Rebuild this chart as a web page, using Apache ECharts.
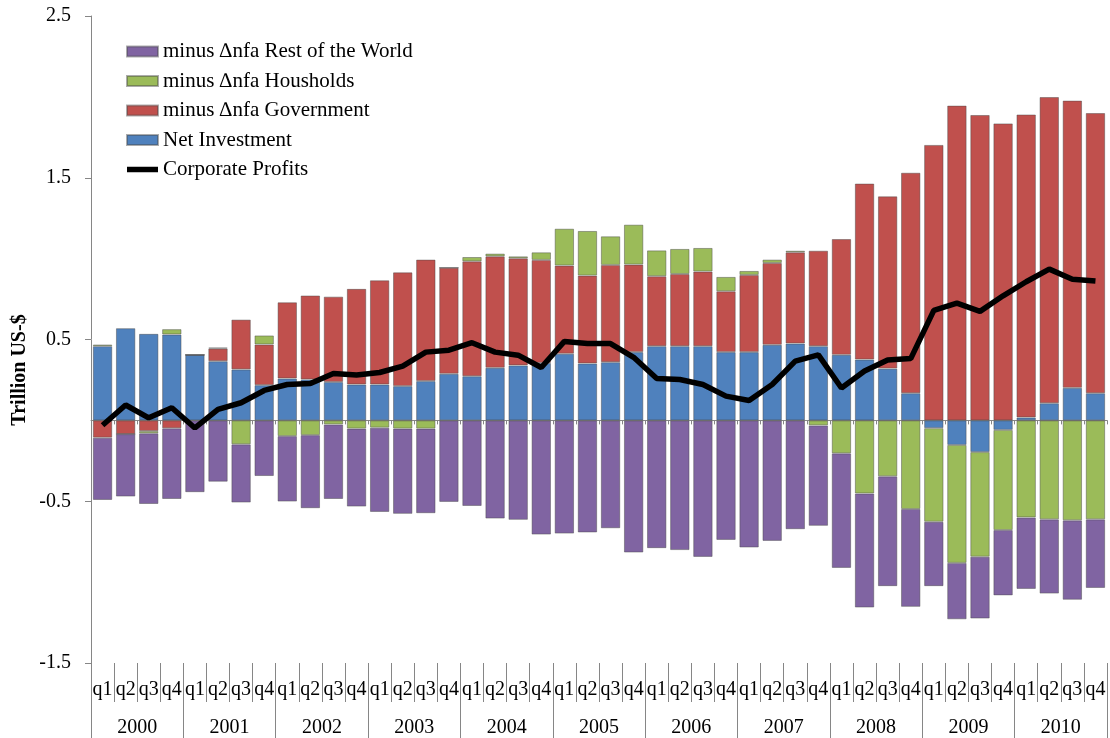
<!DOCTYPE html>
<html>
<head>
<meta charset="utf-8">
<title>Corporate profits decomposition</title>
<script src="https://cdn.jsdelivr.net/npm/echarts@6/dist/echarts.min.js"></script>
<style>
  html, body { margin: 0; padding: 0; background: #fff; }
  #chart { width: 1110px; height: 738px; }
</style>
</head>
<body>
<div id="chart"></div>
<script>
// data, 2000 q1 .. 2010 q4
const years = ['2000', '2001', '2002', '2003', '2004', '2005', '2006', '2007', '2008', '2009', '2010'];
const quarterNames = ['q1', 'q2', 'q3', 'q4'];

const netInvestment = [
  0.459, 0.570, 0.535, 0.531, 0.405, 0.366, 0.315, 0.218, 0.259, 0.253, 0.237, 0.222,
  0.222, 0.212, 0.243, 0.288, 0.273, 0.325, 0.340, 0.355, 0.412, 0.352, 0.360, 0.422,
  0.459, 0.459, 0.459, 0.422, 0.422, 0.467, 0.475, 0.459, 0.405, 0.376, 0.320, 0.168,
  -0.048, -0.152, -0.196, -0.059, 0.018, 0.106, 0.201, 0.168
];
const government = [
  -0.107, -0.085, -0.066, -0.049, 0, 0.078, 0.308, 0.251, 0.471, 0.519, 0.528, 0.591,
  0.644, 0.703, 0.751, 0.656, 0.710, 0.689, 0.662, 0.637, 0.545, 0.543, 0.601, 0.541,
  0.432, 0.446, 0.461, 0.376, 0.477, 0.506, 0.564, 0.590, 0.716, 1.088, 1.065, 1.363,
  1.703, 1.946, 1.888, 1.836, 1.873, 1.893, 1.776, 1.732
];
const households = [
  0.010, 0, -0.014, 0.033, 0, 0.006, -0.148, 0.056, -0.097, -0.091, -0.025, -0.051,
  -0.045, -0.051, -0.051, 0, 0.027, 0.017, 0.012, 0.047, 0.228, 0.276, 0.177, 0.247,
  0.160, 0.155, 0.146, 0.089, 0.025, 0.021, 0.010, -0.031, -0.204, -0.452, -0.346, -0.548,
  -0.579, -0.729, -0.647, -0.619, -0.600, -0.612, -0.618, -0.612
];
const restOfWorld = [
  -0.385, -0.386, -0.437, -0.437, -0.444, -0.379, -0.360, -0.344, -0.405, -0.452, -0.461, -0.482,
  -0.521, -0.527, -0.523, -0.504, -0.529, -0.607, -0.615, -0.706, -0.700, -0.693, -0.667, -0.817,
  -0.790, -0.802, -0.844, -0.739, -0.786, -0.745, -0.673, -0.621, -0.708, -0.705, -0.679, -0.605,
  -0.398, -0.349, -0.382, -0.404, -0.442, -0.459, -0.491, -0.424
];
const corporateProfits = [
  -0.030, 0.095, 0.016, 0.078, -0.047, 0.068, 0.109, 0.185, 0.222, 0.228, 0.290, 0.280,
  0.296, 0.335, 0.422, 0.434, 0.480, 0.422, 0.403, 0.327, 0.488, 0.475, 0.475, 0.390,
  0.259, 0.253, 0.222, 0.150, 0.123, 0.222, 0.366, 0.405, 0.200, 0.305, 0.373, 0.382,
  0.680, 0.725, 0.674, 0.770, 0.857, 0.935, 0.873, 0.862
];

const quarters = [];
years.forEach(() => quarterNames.forEach(q => quarters.push(q)));

const serif = '"Liberation Serif", "Times New Roman", serif';
const axisGray = '#868686';

function barSeries(name, data, color) {
  return {
    name: name,
    type: 'bar',
    stack: 'total',
    data: data,
    barCategoryGap: '16%',
    itemStyle: {
      color: color,
      borderColor: 'rgba(70,70,70,0.45)',
      borderWidth: 1
    }
  };
}

const chart = echarts.init(document.getElementById('chart'));
chart.setOption({
  backgroundColor: '#fff',
  animation: false,
  grid: { left: 91, right: 3, top: 16, bottom: 75 },
  legend: {
    orient: 'vertical',
    left: 126,
    top: 41,
    padding: 0,
    icon: 'rect',
    itemWidth: 31,
    itemHeight: 10,
    itemGap: 8.5,
    textStyle: { fontFamily: serif, fontSize: 21, color: '#000', lineHeight: 20 },
    data: [
      'minus ∆nfa Rest of the World',
      'minus ∆nfa Housholds',
      'minus ∆nfa Government',
      'Net Investment',
      { name: 'Corporate Profits', icon: 'path://M0,0L31,0L31,5.5L0,5.5Z' }
    ]
  },
  graphic: [{
    type: 'text',
    x: 20,
    y: 370,
    rotation: Math.PI / 2,
    style: {
      text: 'Trillion US-$',
      font: 'bold 20px ' + serif,
      fill: '#000',
      align: 'center',
      verticalAlign: 'middle'
    }
  }],
  xAxis: [
    {
      type: 'category',
      data: quarters,
      position: 'bottom',
      axisLine: { onZero: true, lineStyle: { color: axisGray, width: 1 } },
      axisTick: { show: true, length: 4, lineStyle: { color: axisGray } },
      axisLabel: { show: false }
    },
    {
      type: 'category',
      data: quarters,
      position: 'bottom',
      axisLine: { show: false, onZero: false },
      axisTick: { show: true, interval: 0, length: 39, lineStyle: { color: axisGray } },
      axisLabel: { interval: 0, margin: 17, fontFamily: serif, fontSize: 20, color: '#000' }
    },
    {
      type: 'category',
      data: years,
      position: 'bottom',
      axisLine: { show: false, onZero: false },
      axisTick: { show: true, interval: 0, length: 75, lineStyle: { color: axisGray } },
      axisLabel: { interval: 0, margin: 55, fontFamily: serif, fontSize: 20, color: '#000' }
    }
  ],
  yAxis: {
    type: 'value',
    min: -1.5,
    max: 2.5,
    interval: 1,
    axisLine: { show: true, onZero: false, lineStyle: { color: axisGray, width: 1 } },
    axisTick: { show: true, length: 6, lineStyle: { color: axisGray } },
    splitLine: { show: false },
    axisLabel: {
      margin: 20,
      fontFamily: serif,
      fontSize: 20,
      color: '#000',
      formatter: v => v.toFixed(1)
    }
  },
  series: [
    barSeries('Net Investment', netInvestment, '#4F81BD'),
    barSeries('minus ∆nfa Government', government, '#C0504D'),
    barSeries('minus ∆nfa Housholds', households, '#9BBB59'),
    barSeries('minus ∆nfa Rest of the World', restOfWorld, '#8064A2'),
    {
      name: 'Corporate Profits',
      type: 'line',
      data: corporateProfits,
      symbol: 'none',
      z: 10,
      lineStyle: { color: '#000', width: 5.5 },
      itemStyle: { color: '#000' }
    }
  ]
});
</script>
</body>
</html>
